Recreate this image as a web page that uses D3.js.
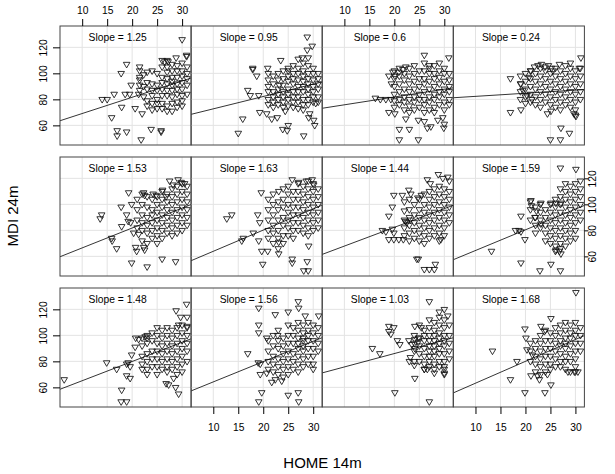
<!DOCTYPE html>
<html>
<head>
<meta charset="utf-8">
<script src="https://cdn.jsdelivr.net/npm/d3@7"></script>
<style>
  body { margin: 0; background: #fff; }
  text { font-family: "Liberation Sans", Arial, sans-serif; fill: #000; }
</style>
</head>
<body>
<div class="chart"></div>
<script>
// Panel data: each entry is [HOME 14m, [MDI 24m values at that HOME score]]
var slopes = [1.25, 0.95, 0.6, 0.24, 1.53, 1.63, 1.44, 1.59, 1.48, 1.56, 1.03, 1.68];
var intercepts = [56.6, 63.2, 69.8, 79.9, 51.2, 47.6, 53.5, 48.6, 50.3, 48.6, 65.4, 46.4];
var xTicks = [10, 15, 20, 25, 30];
var yTicks = [60, 80, 100, 120];

var p1 = [[14,[80]],[15,[80]],[16.4,[84]],[17.8,[100]],[18.9,[107]],[15.9,[66]],[17,[56,52]],[18.9,[55]],[21.8,[49]],[23.8,[57]],[25.8,[56,55]],[17.9,[74]],[18.6,[84]],[19.5,[84]],[19.8,[91]],[21.3,[84]],[20.6,[73]],[22,[69]],[30,[126]],[30.9,[114,113]],[28.8,[112]],[27.2,[109]],[26.5,[109]],
  [21.5,[105,102,97,95,91,87]],[22.3,[99,90,82]],[23,[101,93,88,79,75]],[24,[102,92,87,83,77,72]],[25,[100,91,87,80,77,73]],[26,[110,105,97,93,88,83,77,73]],[27,[110,105,101,96,92,87,83,75,71]],[28,[107,102,97,94,91,87,82,77,71]],[29,[106,102,97,92,88,84,78,74]],[30,[108,102,98,93,88,83,79,75]],[31,[105,100,96,91,84]]];
var p2 = [[15,[54]],[15.9,[65]],[16.9,[87]],[17.4,[83]],[17.9,[103,104]],[18.7,[98]],[19.1,[83]],[19.3,[70]],[20.9,[104]],[20.7,[69]],[21.7,[65]],[22.8,[66]],[23.2,[91]],[24.4,[71]],[23.9,[57]],[25,[60,102]],[24.8,[56]],[28.1,[52]],[28.8,[128,118]],[29.8,[121]],[29,[112]],[30.3,[60]],[30.1,[64]],[29.1,[66]],[29.3,[69]],[30.5,[77]],[27,[111]],[27.8,[112]],[23.5,[110]],
  [21,[100,95,90,86,80,76]],[22,[98,92,86,82,78,74]],[23,[100,95,88,84,80,76]],[24,[102,96,91,86,82,78,74]],[25,[104,98,94,88,84,80,75]],[26,[106,100,96,92,86,82,78,74]],[27,[104,100,95,90,86,82,78,73]],[28,[108,102,98,94,90,86,80,76,72]],[29,[106,100,96,92,88,84,80,76]],[30,[104,100,95,90,86,82,78]],[31,[100,96,92,88,82,78]]];
var p3 = [[16.2,[81]],[17.2,[80]],[18.3,[80]],[19.3,[80]],[18.9,[98,70]],[19.4,[92]],[20.1,[69,98]],[21,[57,49]],[22.3,[65,105]],[23,[57]],[24.8,[49,64]],[26,[114,63]],[30.9,[112]],[27,[106]],[28.7,[64]],[29.7,[66]],[30,[61]],[29.9,[58]],[26.6,[58]],[27.3,[59]],[19.7,[101]],[20.9,[101]],[21.7,[103]],
  [20,[102,96,90,84,79,74]],[21,[104,98,92,86,80,76]],[22,[100,95,88,82,78,72]],[23,[104,98,92,86,80,75,70]],[24,[106,100,94,88,82,78,72]],[25,[102,96,90,84,80,74]],[26,[108,102,96,92,86,80,76,70]],[27,[104,100,94,88,82,78,72]],[28,[106,100,96,90,84,80,74,70]],[29,[108,102,97,92,86,82,76]],[30,[104,100,94,88,84,78,72]],[31,[100,95,90,86,80,76]]];
var p4 = [[17,[96,70]],[19.1,[72,92]],[19.5,[87]],[20.7,[97]],[21.1,[102]],[21.8,[105]],[22.5,[106]],[23.2,[107]],[23.9,[105]],[24.6,[106]],[25.2,[104]],[25.5,[102]],[26.8,[107]],[20.3,[83]],[21.3,[80]],[25.1,[71]],[24.4,[69]],[27.1,[58]],[28.8,[54]],[25,[49]],[27,[49]],[31.1,[112]],[29.7,[69]],[30.1,[67]],[30.8,[104]],[29,[108]],
  [19,[98,92,86,80]],[20,[100,94,88,82,77]],[21,[102,96,90,84,78]],[22,[100,94,88,82,76]],[23,[104,98,92,86,80,74]],[24,[102,96,90,84,78]],[25,[100,94,88,82,76]],[26,[104,98,92,86,80,74]],[27,[102,96,90,84,78,72]],[28,[106,100,94,88,82,76]],[29,[104,98,92,86,80,74]],[30,[102,96,90,84,78,72,68]],[31,[104,98,92,86,80]]];
var p5 = [[13.6,[89]],[13.9,[92]],[15.9,[74]],[16,[72]],[16.9,[66]],[17.8,[98]],[19.3,[109]],[19.9,[100,55]],[17.9,[83]],[19.2,[87]],[19.7,[86]],[18.9,[92]],[20.3,[78]],[21.3,[77]],[20.7,[67]],[20.9,[64]],[23,[52]],[22.3,[67,109]],[22.5,[65,107]],[26,[58]],[28.7,[56]],[24.2,[108]],[24.8,[107]],[26.1,[111]],[26.8,[106]],[27.5,[118]],[28.2,[115]],[29.2,[119]],[29.8,[117]],[30.5,[116]],
  [21,[104,96,88,82]],[22,[108,100,92,86,80,72]],[23,[106,98,90,84,78,70]],[24,[104,96,92,86,80,74]],[25,[106,100,94,88,82,76,70]],[26,[110,104,98,92,86,80,74]],[27,[108,102,96,90,84,78]],[28,[112,106,100,94,88,82,76]],[29,[114,108,102,96,90,84,78]],[30,[116,110,104,98,92,86,80]],[31,[114,108,102,96,90,84]]];
var p6 = [[12.7,[89]],[13.7,[92]],[16,[74]],[15.7,[72]],[18,[78]],[18.9,[92]],[19.6,[109]],[19.3,[86]],[19.1,[72]],[19.7,[64]],[20.9,[64]],[19.9,[54]],[23.1,[110,62,71]],[25.8,[58,55]],[28.8,[56]],[28.1,[49]],[29,[49]],[29.1,[68]],[25.8,[119]],[27.1,[117]],[28.6,[118]],[29.8,[119]],[30.1,[115]],
  [21,[104,96,88,80,74]],[22,[108,100,92,84,78,70]],[23,[102,96,88,80,74,66]],[24,[112,104,98,90,84,76,70]],[25,[114,108,100,94,88,82,76]],[26,[110,104,98,92,86,80,74]],[27,[116,110,104,98,92,86,80]],[28,[114,108,102,96,90,84,78]],[29,[118,112,106,100,94,88,82,76]],[30,[116,110,104,98,92,86,80]],[31,[112,106,100,94,88,82]]];
var p7 = [[17.6,[80]],[18.3,[79]],[19.6,[81]],[19.9,[78]],[18.9,[73,91]],[19.9,[73]],[20.9,[73]],[21.8,[73]],[19.6,[98]],[19.9,[107]],[21.6,[107]],[22.9,[111]],[23.3,[108]],[22.2,[87]],[22.5,[86]],[23.2,[88]],[24.7,[105]],[25.4,[107]],[24.5,[58]],[24.8,[58]],[26,[50]],[27,[50]],[28,[50]],[28.2,[54]],[28.8,[123]],[30.7,[121]],[29.7,[120]],[31,[118]],[26.6,[119]],[27.2,[116]],[29.3,[73]],
  [22,[102,95,88,82,76]],[23,[104,96,90,84,78,72]],[24,[100,92,86,80,74]],[25,[104,96,90,84,78,72]],[26,[108,100,94,88,82,76,70]],[27,[110,104,98,92,86,80,74]],[28,[112,106,100,94,88,82,76]],[29,[114,108,102,96,90,84,78,72]],[30,[112,106,100,94,88,82,76]],[31,[110,104,98,92,86]]];
var p8 = [[13.2,[64]],[18,[80]],[18.7,[80]],[19.1,[79,91,55]],[19.9,[73]],[22.9,[49]],[25.1,[54]],[27,[49,128]],[30.1,[127]],[21.1,[103]],[23.1,[101]],[25.1,[101]],[26.1,[101]],[27.1,[101]],[21.2,[99]],[22.2,[95]],[21.9,[90]],[23.1,[85]],[26.8,[64]],[26.1,[65]],[27.1,[62]],
  [21,[102,96,88]],[22,[98,90,84,78]],[23,[100,94,88,82]],[24,[96,90,84,78,72]],[25,[100,94,88,82,76,70]],[26,[104,98,92,86,80,74,68,64]],[27,[112,106,100,94,88,82,76,70,66]],[28,[116,110,104,98,92,86,80,74,68]],[29,[114,108,102,96,90,84,78,72]],[30,[116,110,104,98,92,86,80,74]],[31,[118,112,106,100,94,88]]];
var p9 = [[6.4,[66]],[14.9,[79]],[16.9,[74]],[17.9,[58]],[17.8,[49]],[18.9,[49,78,69]],[19.2,[79]],[19.6,[76,67]],[19.9,[85]],[20.6,[91]],[20.7,[98]],[21.3,[97]],[22.6,[99]],[23,[98]],[26.8,[63]],[27.3,[62]],[28.3,[67]],[28.7,[60]],[29.3,[55]],[28.8,[119]],[29.7,[114]],[30.9,[124]],[31,[114]],[29.3,[108]],[31,[107]],
  [22,[98,92,84,78,74]],[23,[100,94,86,80,74,70]],[24,[102,96,88,82,76]],[25,[106,100,94,88,82,76,70]],[26,[104,98,92,86,80,74]],[27,[106,100,94,88,82,76,72]],[28,[104,98,92,86,80,74]],[29,[106,100,94,88,82,76,70]],[30,[108,102,96,90,84,78,72]],[31,[106,100,94,88,80]]];
var p10 = [[16.9,[86]],[19.1,[121,108,102,49]],[20.7,[98]],[19,[79]],[19.4,[78,70]],[20.7,[71]],[19.7,[56]],[21.7,[64]],[22.4,[66,116]],[23.7,[65]],[25,[54,118]],[27,[56,126]],[27.1,[49,121]],[28.4,[115]],[31.1,[115]],[22.9,[100]],
  [21,[96,88,80,74]],[22,[100,92,84,78,72]],[23,[104,96,90,82,76,70]],[24,[98,92,86,80,74,68]],[25,[108,100,94,88,82,76,70]],[26,[106,100,94,86,80,74]],[27,[110,104,98,94,90,84,78,72]],[28,[108,102,98,96,92,88,82,76]],[29,[110,104,100,96,90,84,78]],[30,[108,102,96,90,84,78,74]],[31,[106,100,94,88]]];
var p11 = [[15.6,[90]],[17.1,[86]],[18.9,[107,103]],[19.9,[106]],[19.3,[101]],[20.6,[96]],[21.1,[93]],[20.1,[56]],[27,[49,126]],[24.1,[107,97,67]],[25.4,[106]],[24.8,[98]],[22.9,[96]],[23.5,[93]],[24.1,[90]],[24.8,[95]],[23.2,[83]],[23,[80]],[24,[77]],[26,[74]],[26.6,[74]],[28,[71]],[30,[74,71,120]],[30.7,[115]],[29,[118]],
  [24,[100,94,88,80]],[25,[108,98,92,86,80]],[26,[104,100,96,90,84,78,74]],[27,[112,106,100,96,92,88,84,80,76]],[28,[110,104,100,96,92,88,84,78,74]],[29,[114,108,102,98,94,90,86,80,76]],[30,[112,106,100,96,92,86,80,76,70]],[31,[108,100,94,88,82]]];
var p12 = [[13.4,[88]],[17,[66]],[18.3,[80]],[19.9,[105,56]],[20.1,[98]],[20.3,[89]],[21.4,[85]],[23.1,[107]],[23.8,[103]],[25.1,[113,62]],[23.9,[56]],[21.1,[69]],[22.4,[69]],[22.8,[66]],[24.4,[70]],[30.1,[133]],[28.5,[72]],[29.8,[72]],[30.5,[72]],
  [21,[94,88,80]],[22,[96,90,84,78,72]],[23,[100,94,88,82,76,70]],[24,[104,96,90,84,78,72]],[25,[102,96,90,84,78,74]],[26,[106,100,94,88,82,76]],[27,[108,102,96,92,86,80,76]],[28,[110,104,98,94,90,84,80,74]],[29,[108,102,98,92,86,80,72]],[30,[110,104,100,94,88,82,76,72]],[31,[106,100,94,88]]];

var panels = [p1, p2, p3, p4, p5, p6, p7, p8, p9, p10, p11, p12];

var svgWidth = 615;
var svgHeight = 474;

var panelLeft = 60;
var panelTop = 26;
var pw = 131.1;
var ph = 119;
var rowStep = 131;

var svg = d3.select(".chart")
  .append("svg")
  .attr("width", svgWidth)
  .attr("height", svgHeight);

svg.append("clipPath")
  .attr("id", "clip")
  .append("rect")
  .attr("width", pw)
  .attr("height", ph);

// Shared scales for every panel
var xScale = d3.scaleLinear().domain([5.56, 31.8]).range([0, pw]);
var yScale = d3.scaleLinear().domain([44.9, 136.4]).range([ph, 0]);

// downward triangle, like R pch = 6
var tri = "M-3.3,-1.9L3.3,-1.9L0,3.7Z";

panels.forEach(function(pts, i) {
  var row = Math.floor(i / 4);
  var col = i % 4;
  var g = svg.append("g")
    .attr("transform", `translate(${panelLeft + col * pw}, ${panelTop + row * rowStep})`);

  // grid
  g.selectAll(".gx").data(xTicks).enter().append("line")
    .attr("x1", d => xScale(d)).attr("x2", d => xScale(d))
    .attr("y1", 0).attr("y2", ph)
    .attr("stroke", "#e3e3e3");
  g.selectAll(".gy").data(yTicks).enter().append("line")
    .attr("y1", d => yScale(d)).attr("y2", d => yScale(d))
    .attr("x1", 0).attr("x2", pw)
    .attr("stroke", "#e3e3e3");

  var flat = [];
  pts.forEach(function(d) {
    d[1].forEach(function(v) { flat.push([d[0], v]); });
  });

  var inner = g.append("g").attr("clip-path", "url(#clip)");

  inner.selectAll("path").data(flat).enter().append("path")
    .attr("d", tri)
    .attr("transform", d => `translate(${xScale(d[0])}, ${yScale(d[1])})`)
    .attr("fill", "none")
    .attr("stroke", "#111")
    .attr("stroke-width", 0.85);

  // regression line across the panel
  var xd = xScale.domain();
  inner.append("line")
    .attr("x1", xScale(xd[0])).attr("y1", yScale(intercepts[i] + slopes[i] * xd[0]))
    .attr("x2", xScale(xd[1])).attr("y2", yScale(intercepts[i] + slopes[i] * xd[1]))
    .attr("stroke", "#000")
    .attr("stroke-width", 0.8);

  g.append("text")
    .attr("x", xScale(17.1))
    .attr("y", yScale(128))
    .attr("dy", "0.35em")
    .attr("text-anchor", "middle")
    .attr("font-size", "10.3px")
    .text("Slope = " + slopes[i]);

  g.append("rect")
    .attr("width", pw).attr("height", ph)
    .attr("fill", "none")
    .attr("stroke", "#444")
    .attr("stroke-width", 1);

  // lattice style alternating axes
  if (row === 0 && (col === 0 || col === 2)) {
    var top = g.append("g").call(d3.axisTop(xScale).tickValues(xTicks).tickSize(7).tickPadding(5));
    top.select(".domain").remove();
    top.selectAll("text").attr("font-size", "10.3px").attr("font-family", null);
  }
  if (row === 2 && (col === 1 || col === 3)) {
    var bottom = g.append("g")
      .attr("transform", `translate(0, ${ph})`)
      .call(d3.axisBottom(xScale).tickValues(xTicks).tickSize(7).tickPadding(10));
    bottom.select(".domain").remove();
    bottom.selectAll("text").attr("font-size", "10.3px").attr("font-family", null);
  }
  if (col === 0 && (row === 0 || row === 2)) {
    var leftAxis = g.append("g").call(d3.axisLeft(yScale).tickValues(yTicks).tickSize(7));
    leftAxis.select(".domain").remove();
    leftAxis.selectAll("text")
      .attr("font-size", "10.3px").attr("font-family", null)
      .attr("text-anchor", "middle")
      .attr("x", null).attr("dy", null)
      .attr("transform", "translate(-13, 0) rotate(-90)")
      .attr("y", 0);
  }
  if (col === 3 && row === 1) {
    var rightAxis = g.append("g")
      .attr("transform", `translate(${pw}, 0)`)
      .call(d3.axisRight(yScale).tickValues(yTicks).tickSize(4));
    rightAxis.select(".domain").remove();
    rightAxis.selectAll("text")
      .attr("font-size", "10.3px").attr("font-family", null)
      .attr("text-anchor", "middle")
      .attr("x", null).attr("dy", null)
      .attr("transform", "translate(11.5, 0) rotate(-90)")
      .attr("y", 0);
  }
});

// axis titles
svg.append("text")
  .attr("transform", "translate(18, 216) rotate(-90)")
  .attr("text-anchor", "middle")
  .attr("font-size", "15px")
  .text("MDI 24m");

svg.append("text")
  .attr("x", 322.5)
  .attr("y", 468)
  .attr("text-anchor", "middle")
  .attr("font-size", "15px")
  .text("HOME 14m");
</script>
</body>
</html>
